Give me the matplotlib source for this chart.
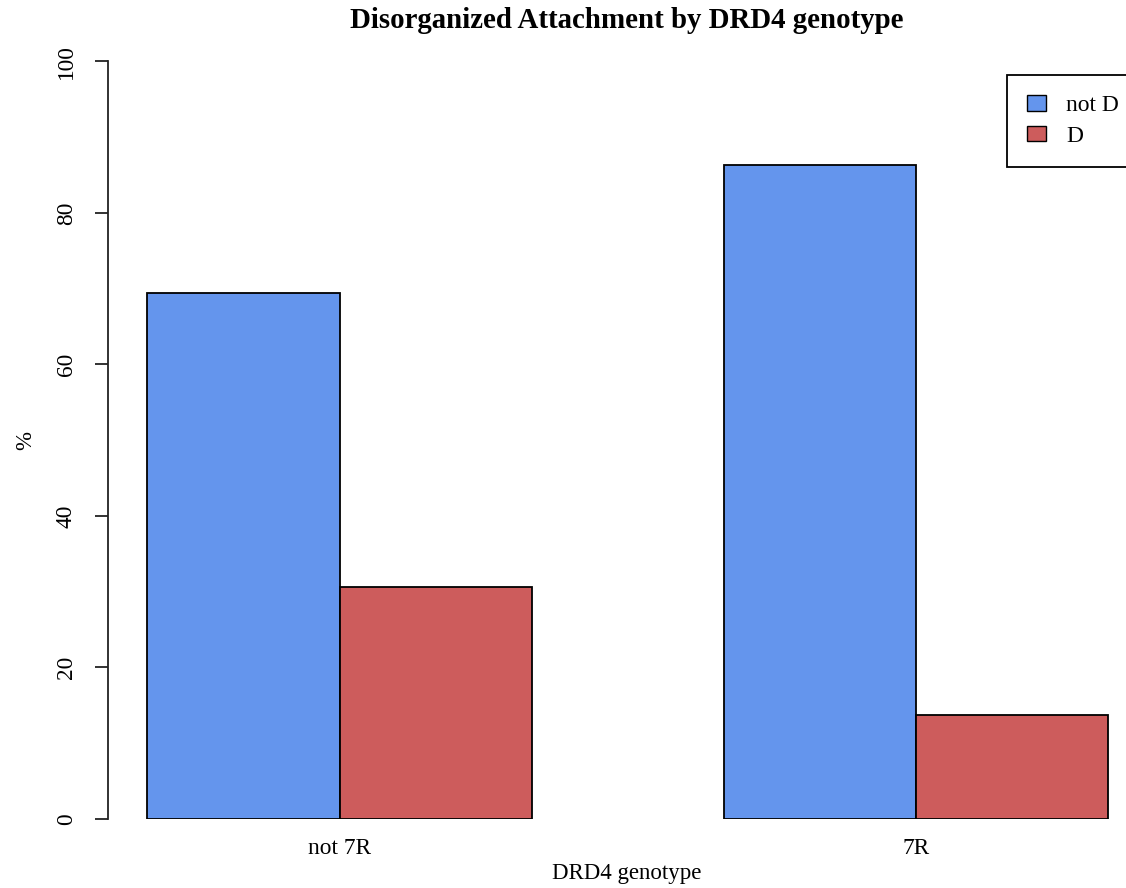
import matplotlib.pyplot as plt
from matplotlib.patches import Patch

# Data
genotypes = ['not 7R', '7R']
groups = ['not D', 'D']
not_d = [69.4, 86.3]
d = [30.6, 13.7]
colors = ['#6495ED', '#CD5C5C']

plt.rcParams['font.family'] = ['Liberation Serif', 'DejaVu Serif']

W, H = 1126, 888
fig = plt.figure(figsize=(W / 100, H / 100), dpi=100)
ax = fig.add_axes([108 / W, 1 - 819 / H, 1 - 108 / W, (819 - 31) / H])

# R-style barplot(beside=TRUE): bars of width 1, gap of 1 between groups
centers = [2, 5]
ax.bar([c - 0.5 for c in centers], not_d, width=1, color=colors[0],
       edgecolor='black', linewidth=1.3)
ax.bar([c + 0.5 for c in centers], d, width=1, color=colors[1],
       edgecolor='black', linewidth=1.3)

ax.set_xlim(0.795, 0.795 + (W - 108) / 192.2)
ax.set_ylim(0, 104)

for s in ['top', 'right', 'bottom']:
    ax.spines[s].set_visible(False)
ax.spines['left'].set_bounds(0, 100)
ax.spines['left'].set_color('#222222')
ax.spines['left'].set_linewidth(1.3)

ax.set_yticks([0, 20, 40, 60, 80, 100])
ax.set_yticklabels(['0', '20', '40', '60', '80', '100'], rotation=90, va='center')
ax.tick_params(axis='y', length=9.5, width=1.3, pad=13, labelsize=16.8, color='#222222')
ax.set_xticks(centers)
ax.set_xticklabels(genotypes)
ax.tick_params(axis='x', length=0, pad=14, labelsize=16.8)

fig.text(627 / W, 1 - 21 / H, 'Disorganized Attachment by DRD4 genotype',
         ha='center', va='center', fontsize=20.8, fontweight='bold')
fig.text(627 / W, 1 - 873 / H, 'DRD4 genotype', ha='center', va='center', fontsize=16.5)
fig.text(26 / W, 1 - 440 / H, '%', ha='center', va='center', rotation=90, fontsize=16.5)

handles = [Patch(facecolor=colors[i], edgecolor='black', label=groups[i]) for i in range(2)]
leg = fig.legend(handles=handles, loc='upper left', bbox_to_anchor=(1007 / W, 1 - 75 / H),
                 bbox_transform=fig.transFigure, borderaxespad=0, fontsize=17,
                 frameon=True, fancybox=False, edgecolor='black', framealpha=1,
                 handlelength=0.8, handleheight=0.65, handletextpad=0.85,
                 labelspacing=0.4, borderpad=0.85)
leg.get_frame().set_linewidth(1.3)

fig.savefig('out.png', dpi=100)
